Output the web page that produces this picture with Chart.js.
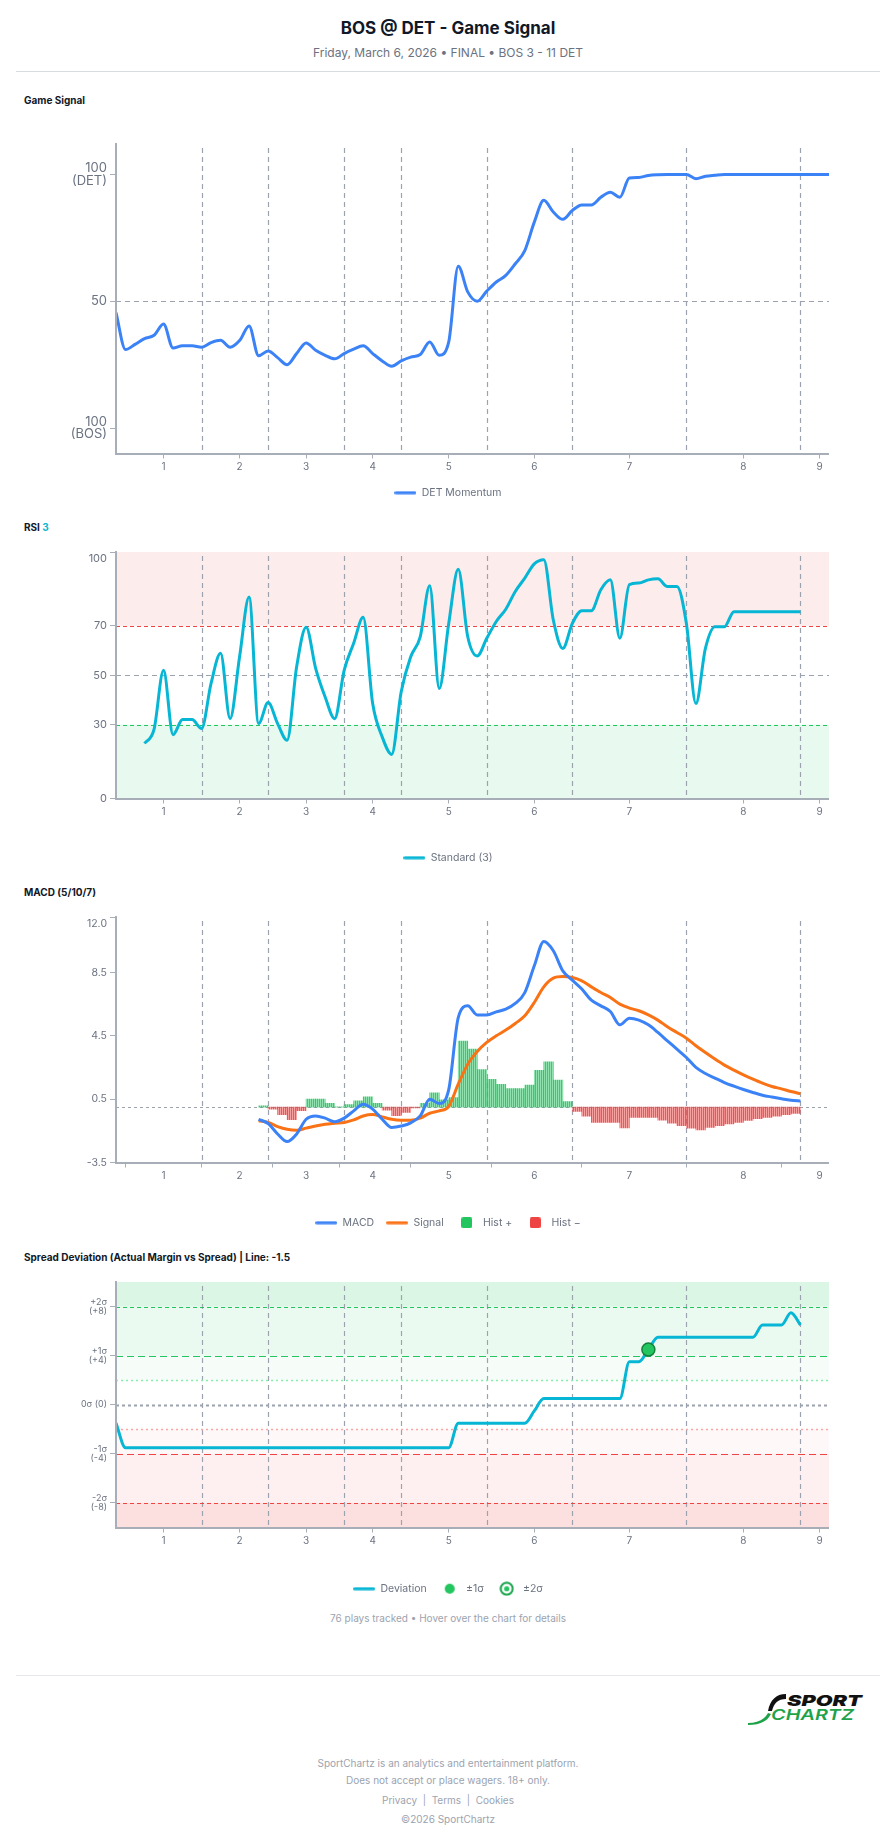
<!DOCTYPE html>
<html lang="en"><head><meta charset="utf-8"><title>BOS @ DET - Game Signal</title>
<script src="https://cdn.jsdelivr.net/npm/chart.js@4.4.1/dist/chart.umd.min.js"></script>
<style>
html,body{margin:0;padding:0;background:#fff;}
body{width:896px;height:1845px;overflow:hidden;position:relative;font-family:Inter,"Noto Sans",sans-serif;}
.a{position:absolute;white-space:nowrap;}
.c{left:0;width:896px;text-align:center;}
.sec{left:24px;font-size:10px;font-weight:700;color:#111827;line-height:16px;}
.hr{position:absolute;left:16px;width:864px;height:1px;background:#e5e7eb;}
canvas{position:absolute;left:67px;display:block;}
.foot{font-size:10px;color:#9ca3af;line-height:16px;}
</style></head><body>
<div class="a c" style="top:17px;font-size:17px;font-weight:700;color:#111827;line-height:22px">BOS @ DET - Game Signal</div>
<div class="a c" style="top:45px;font-size:12px;color:#6b7280;line-height:16px">Friday, March 6, 2026 • FINAL • BOS 3 - 11 DET</div>
<div class="hr" style="top:71px;background:#d8dbe0"></div>

<div class="a sec" style="top:92px">Game Signal</div>
<canvas id="c1" width="762" height="384" style="top:124px;width:762px;height:384px"></canvas>

<div class="a sec" style="top:519px">RSI <span style="color:#06b6d4">3</span></div>
<canvas id="c2" width="762" height="341" style="top:532px;width:762px;height:341px"></canvas>

<div class="a sec" style="top:884px">MACD (5/10/7)</div>
<canvas id="c3" width="762" height="341" style="top:897px;width:762px;height:341px"></canvas>

<div class="a sec" style="top:1249px">Spread Deviation (Actual Margin vs Spread) | Line: -1.5</div>
<canvas id="c4" width="762" height="342" style="top:1262px;width:762px;height:342px"></canvas>

<div class="a c foot" style="top:1610px">76 plays tracked • Hover over the chart for details</div>
<div class="hr" style="top:1675px"></div>
<svg class="a" style="left:745px;top:1690px" width="125" height="36" viewBox="0 0 125 36">
  <path d="M41 4 C31 4 25 10 23 21 L27 21 C29 13 33 9 41 9 Z" fill="#111"/>
  <path d="M3 33 C12 33 19 30 23 23 L26 24 C22 32 14 35 3 35 Z" fill="#1fa34a"/>
  <text x="42" y="16" textLength="75" lengthAdjust="spacingAndGlyphs" font-family="Inter" font-size="15" font-weight="900" font-style="italic" fill="#111">SPORT</text>
  <text x="26" y="30" textLength="83" lengthAdjust="spacingAndGlyphs" font-family="Inter" font-size="15" font-weight="600" font-style="italic" fill="#1fa34a">CHARTZ</text>
</svg>
<div class="a c foot" style="top:1755px">SportChartz is an analytics and entertainment platform.</div>
<div class="a c foot" style="top:1772px">Does not accept or place wagers. 18+ only.</div>
<div class="a c foot" style="top:1792px">Privacy&nbsp;&nbsp;|&nbsp;&nbsp;Terms&nbsp;&nbsp;|&nbsp;&nbsp;Cookies</div>
<div class="a c foot" style="top:1811px">©2026 SportChartz</div>

<script>
// ---------------- DATA ----------------
const PLAY_COUNT = 76;
const INNING_BOUNDARIES = [9, 16, 24, 30, 39, 48, 60, 72];
const INNING_TICK_IDX = [5, 13, 20, 27, 35, 44, 54, 66, 74];
const INNING_LABELS = ['1', '2', '3', '4', '5', '6', '7', '8', '9'];

const gameSignal = [45.5,31,33,35.3,36.6,41,31.6,32.5,32.5,31.9,
  33.7,34.6,31.9,34.5,40.3,28.5,30.4,27.8,25,29.4,
  33.6,30.7,28.7,27.3,29.4,31.1,32.5,29.4,26.5,24.4,
  26.5,28,29,34,28.7,34,63.8,53.7,50,54,
  57.6,60.2,64.8,70,81.2,89.8,85.2,82.3,85.8,88,
  88,91,93,91,98.6,98.8,99.6,99.9,100,100,
  100,98.3,99.3,99.7,100,100,100,100,100,100,
  100,100,100,100,100,100];

const rsiStart = 3;
const rsiValues = [22.3,28,52,25.9,32,32,28.4,46.7,58.9,32.4,
  57.5,81.7,30.4,38.9,30.4,23.6,53.4,69.5,52.8,41.2,
  32.4,52,63,73.5,38.5,25,17.9,43.3,57.5,65.6,
  86.3,44.6,71,93,65.6,57.8,65,71.8,76.8,84,
  89.4,95.2,96.9,72.4,60.9,71,76.2,76.2,84.7,88.7,
  65,86.8,87.4,88.7,89.1,86,86,71,38.5,60.9,
  69.7,69.7,75.8,75.8,75.8,75.8,75.8,75.8,75.8,75.8];

const macdStart = 15;
const macdValues = [-0.77,-1.04,-1.7,-2.18,-1.7,-0.77,-0.56,-0.7,-0.93,-0.7,
  -0.24,0.18,-0.13,-0.77,-1.29,-1.2,-1.0,-0.56,0.5,0.22,
  1.1,5.65,6.39,5.82,5.82,6.01,6.18,6.54,7.23,8.92,
  10.45,9.87,8.6,8.01,7.45,6.75,6.39,6.03,5.19,5.61,
  5.49,5.19,4.71,4.18,3.66,3.13,2.5,2.12,1.83,1.55,
  1.32,1.11,0.92,0.75,0.63,0.52,0.43,0.39];
const signalValues = [-0.87,-0.97,-1.23,-1.4,-1.46,-1.33,-1.19,-1.08,-1.02,-0.97,
  -0.81,-0.56,-0.47,-0.62,-0.77,-0.83,-0.83,-0.7,-0.39,-0.24,
  0.05,1.45,2.71,3.51,4.08,4.5,4.86,5.28,5.76,6.6,
  7.59,8.14,8.24,8.18,7.97,7.59,7.23,6.92,6.5,6.25,
  6.08,5.82,5.49,5.07,4.71,4.35,3.87,3.44,3.03,2.65,
  2.33,2.03,1.76,1.51,1.3,1.15,0.98,0.85];
const histValues = [0.08,-0.13,-0.48,-0.8,-0.23,0.5,0.5,0.23,0.02,0.15,
  0.4,0.65,0.23,-0.19,-0.55,-0.34,-0.05,0.23,0.9,0.46,
  0.6,4.17,3.66,2.36,1.75,1.43,1.16,1.16,1.39,2.32,
  2.86,1.7,0.34,-0.27,-0.57,-0.97,-0.97,-0.97,-1.31,-0.65,
  -0.65,-0.65,-0.82,-1.01,-1.18,-1.33,-1.45,-1.28,-1.18,-1.07,
  -0.97,-0.84,-0.74,-0.65,-0.57,-0.48,-0.4];

const deviationValues = [-1.5,
  -3.5,-3.5,-3.5,-3.5,-3.5,-3.5,-3.5,-3.5,-3.5,-3.5,
  -3.5,-3.5,-3.5,-3.5,-3.5,-3.5,-3.5,-3.5,-3.5,-3.5,
  -3.5,-3.5,-3.5,-3.5,-3.5,-3.5,-3.5,-3.5,-3.5,-3.5,
  -3.5,-3.5,-3.5,-3.5,-3.5,
  -1.5,-1.5,-1.5,-1.5,-1.5,-1.5,-1.5,-1.5,
  -0.5,
  0.5,0.5,0.5,0.5,0.5,0.5,0.5,0.5,0.5,
  3.5,3.5,4.5,
  5.5,5.5,5.5,5.5,5.5,5.5,5.5,5.5,5.5,5.5,5.5,
  6.5,6.5,6.5,7.5,6.5];
const SIGMA = 4;

const GS_Y_TICKS = [0, 50, 100];
const GS_Y_LABELS = [['100', '(BOS)'], '50', ['100', '(DET)']];
const RSI_Y_TICKS = [0, 30, 50, 70, 100];
const RSI_Y_LABELS = ['0', '30', '50', '70', ['', '100']];
const MACD_Y_TICKS = [-3.5, 0.5, 4.5, 8.5, 12];
const MACD_Y_LABELS = ['-3.5', '0.5', '4.5', '8.5', ['', '12.0']];
const DEV_Y_TICKS = [-8, -4, 0, 4, 8];
const DEV_Y_LABELS = [['-2σ', '(-8)'], ['-1σ', '(-4)'], '0σ (0)', ['+1σ', '(+4)'], ['+2σ', '(+8)']];

// ---------------- HELPERS ----------------
Chart.defaults.font.family = "Inter, 'Noto Sans', sans-serif";
const AXIS = '#a8aeb8', TXT = '#6b7280', GRIDV = '#9ca3af';
const BLUE = '#3b82f6', ORANGE = '#f97316', CYAN = '#06b6d4', GREEN = '#22c55e', RED = '#ef4444';

function mk(w, h, draw) { const c = document.createElement('canvas'); c.width = w; c.height = h; draw(c.getContext('2d')); return c; }
const lineMarker = col => mk(22, 4, g => { g.strokeStyle = col; g.lineWidth = 3; g.lineCap = 'round'; g.beginPath(); g.moveTo(1.5, 2); g.lineTo(20.5, 2); g.stroke(); });
const squareMarker = col => mk(11, 11, g => { g.fillStyle = col; g.beginPath(); g.roundRect(0, 0, 11, 11, 2); g.fill(); });
const dotMarker = col => mk(12, 12, g => { g.fillStyle = col; g.beginPath(); g.arc(6, 6, 5, 0, Math.PI * 2); g.fill(); });
const ringMarker = col => mk(15, 15, g => { g.fillStyle = '#fff'; g.strokeStyle = '#16a34a'; g.lineWidth = 2; g.beginPath(); g.arc(7.5, 7.5, 6, 0, Math.PI * 2); g.fill(); g.stroke(); g.fillStyle = col; g.beginPath(); g.arc(7.5, 7.5, 2.6, 0, Math.PI * 2); g.fill(); });

function legendCfg(items) {
  return {
    position: 'bottom',
    labels: {
      usePointStyle: true, pointStyleWidth: 22, padding: 12, color: TXT, font: { size: 10.5 },
      generateLabels: () => items.map((it, i) => ({ text: it.text, pointStyle: it.marker, fillStyle: 'transparent', strokeStyle: 'transparent', lineWidth: 0, hidden: false, fontColor: TXT, datasetIndex: i }))
    }
  };
}

function xScale(h) {
  return {
    type: 'linear', min: 0, max: PLAY_COUNT - 1, offset: false,
    afterBuildTicks: s => { s.ticks = INNING_TICK_IDX.map(v => ({ value: v })); },
    afterFit: s => { s.height = h; },
    ticks: { autoSkip: false, maxRotation: 0, padding: 2, color: TXT, font: { size: 10 },
      callback: v => INNING_LABELS[INNING_TICK_IDX.indexOf(v)] },
    grid: { drawOnChartArea: false, drawTicks: true, tickLength: 5, color: AXIS, tickColor: AXIS },
    border: { display: true, color: AXIS, width: 2, z: 1 }
  };
}
function yScale(min, max, ticks, labels, size, lh) {
  return {
    type: 'linear', min, max,
    afterBuildTicks: s => { s.ticks = ticks.map(v => ({ value: v })); },
    afterFit: s => { s.width = 49; },
    ticks: { padding: 3, color: TXT, font: { size, lineHeight: lh }, callback: v => labels[ticks.indexOf(v)] },
    grid: { drawOnChartArea: false, drawTicks: true, tickLength: 6, color: AXIS, tickColor: AXIS },
    border: { display: true, color: AXIS, width: 2, z: 1 }
  };
}
function refPlugin(cfg) {
  return {
    id: 'refs',
    beforeDatasetsDraw(chart) {
      const { ctx, chartArea: a, scales: { x, y } } = chart;
      ctx.save();
      (cfg.bands || []).forEach(b => {
        const y1 = y.getPixelForValue(b.to), y2 = y.getPixelForValue(b.from);
        ctx.fillStyle = b.color; ctx.fillRect(a.left, y1, a.right - a.left, y2 - y1);
      });
      ctx.lineWidth = 1.2; ctx.strokeStyle = GRIDV; ctx.setLineDash([5, 4]);
      INNING_BOUNDARIES.forEach(v => {
        const px = Math.round(x.getPixelForValue(v)) + 0.5;
        ctx.beginPath(); ctx.moveTo(px, a.top + 4); ctx.lineTo(px, a.bottom); ctx.stroke();
      });
      (cfg.hlines || []).forEach(l => {
        const py = Math.round(y.getPixelForValue(l.value)) + 0.5;
        ctx.lineWidth = l.width || 1.2; ctx.strokeStyle = l.color; ctx.setLineDash(l.dash);
        ctx.beginPath(); ctx.moveTo(a.left, py); ctx.lineTo(a.right, py); ctx.stroke();
      });
      ctx.restore();
    }
  };
}
function baseOptions(xs, ys, legend) {
  return {
    responsive: false, animation: false, events: [],
    layout: { padding: { top: 20, left: 0, right: 0, bottom: 0 } },
    scales: { x: xs, y: ys },
    plugins: { legend, tooltip: { enabled: false } }
  };
}
const lineDs = (label, pts, color, extra) => Object.assign({ type: 'line', label, data: pts, borderColor: color, backgroundColor: color, borderWidth: 3, pointRadius: 0, fill: false, cubicInterpolationMode: 'monotone' }, extra || {});

// ---------------- CHART 1: GAME SIGNAL ----------------
new Chart(document.getElementById('c1'), {
  type: 'line',
  data: { datasets: [lineDs('DET Momentum', gameSignal.map((v, i) => ({ x: i, y: v })), BLUE)] },
  options: baseOptions(xScale(22), yScale(-10, 112, GS_Y_TICKS, GS_Y_LABELS, 13, 0.95),
    legendCfg([{ text: 'DET Momentum', marker: lineMarker(BLUE) }])),
  plugins: [refPlugin({ hlines: [{ value: 50, color: GRIDV, dash: [5, 4] }] })]
});

// ---------------- CHART 2: RSI ----------------
new Chart(document.getElementById('c2'), {
  type: 'line',
  data: { datasets: [lineDs('Standard (3)', rsiValues.map((v, k) => ({ x: rsiStart + k, y: v })), CYAN)] },
  options: baseOptions(xScale(42), yScale(0, 100, RSI_Y_TICKS, RSI_Y_LABELS, 11, 1.3),
    legendCfg([{ text: 'Standard (3)', marker: lineMarker(CYAN) }])),
  plugins: [refPlugin({
    bands: [{ from: 70, to: 100, color: 'rgba(239,68,68,0.1)' }, { from: 0, to: 30, color: 'rgba(34,197,94,0.1)' }],
    hlines: [{ value: 70, color: RED, dash: [4, 3] }, { value: 50, color: GRIDV, dash: [5, 4] }, { value: 30, color: GREEN, dash: [4, 3] }]
  })]
});

// ---------------- CHART 3: MACD ----------------
const c3 = document.getElementById('c3');
function stripes(ctx, rgb) {
  const tile = mk(2, 4, g => { g.fillStyle = `rgba(${rgb},0.9)`; g.fillRect(0, 0, 1, 4); g.fillStyle = `rgba(${rgb},0.5)`; g.fillRect(1, 0, 1, 4); });
  return ctx.createPattern(tile, 'repeat');
}
const ctx3 = c3.getContext('2d');
const barDs = (label, filterFn, pattern) => ({
  type: 'bar', label, order: 2, grouped: false, barPercentage: 1, categoryPercentage: 1, borderWidth: 0,
  backgroundColor: pattern,
  data: histValues.map((v, k) => ({ x: macdStart + k + 0.5, y: filterFn(v) ? v : null }))
});
new Chart(c3, {
  type: 'line',
  data: { datasets: [
    lineDs('MACD', macdValues.map((v, k) => ({ x: macdStart + k, y: v })), BLUE, { order: 0 }),
    lineDs('Signal', signalValues.map((v, k) => ({ x: macdStart + k, y: v })), ORANGE, { order: 1 }),
    barDs('Hist +', v => v >= 0, stripes(ctx3, '34,197,94')),
    barDs('Hist −', v => v < 0, stripes(ctx3, '239,68,68'))
  ] },
  options: baseOptions(xScale(43), yScale(-3.5, 12, MACD_Y_TICKS, MACD_Y_LABELS, 10.5, 1.3),
    legendCfg([
      { text: 'MACD', marker: lineMarker(BLUE) }, { text: 'Signal', marker: lineMarker(ORANGE) },
      { text: 'Hist +', marker: squareMarker(GREEN) }, { text: 'Hist −', marker: squareMarker(RED) }
    ])),
  plugins: [refPlugin({ hlines: [{ value: 0, color: GRIDV, dash: [3, 3], width: 1 }] })]
});

// ---------------- CHART 4: SPREAD DEVIATION ----------------
const crossRadius = deviationValues.map((v, i) => {
  if (i === 0) return 0;
  const p = Math.abs(deviationValues[i - 1]), c = Math.abs(v);
  return (p < SIGMA && c >= SIGMA) || (p < 2 * SIGMA && c >= 2 * SIGMA) ? 6.5 : 0;
});
new Chart(document.getElementById('c4'), {
  type: 'line',
  data: { datasets: [lineDs('Deviation', deviationValues.map((v, i) => ({ x: i, y: v })), CYAN, {
    pointRadius: crossRadius, pointBackgroundColor: GREEN, pointBorderColor: '#15803d', pointBorderWidth: 1.5
  })] },
  options: baseOptions(xScale(44), yScale(-10, 10, DEV_Y_TICKS, DEV_Y_LABELS, 9, 0.95),
    legendCfg([
      { text: 'Deviation', marker: lineMarker(CYAN) }, { text: '±1σ', marker: dotMarker(GREEN) },
      { text: '±2σ', marker: ringMarker(GREEN) }
    ])),
  plugins: [refPlugin({
    bands: [
      { from: 8, to: 10, color: 'rgba(34,197,94,0.16)' }, { from: 4, to: 8, color: 'rgba(34,197,94,0.09)' },
      { from: 2, to: 4, color: 'rgba(34,197,94,0.04)' }, { from: -4, to: -2, color: 'rgba(239,68,68,0.04)' },
      { from: -8, to: -4, color: 'rgba(239,68,68,0.08)' }, { from: -10, to: -8, color: 'rgba(239,68,68,0.17)' }
    ],
    hlines: [
      { value: 8, color: GREEN, dash: [4, 3] }, { value: 4, color: GREEN, dash: [7, 4] },
      { value: 2, color: '#86efac', dash: [2, 3], width: 1.5 }, { value: 0, color: GRIDV, dash: [3, 3], width: 2 },
      { value: -2, color: '#fca5a5', dash: [2, 3], width: 1.5 }, { value: -4, color: RED, dash: [7, 4] },
      { value: -8, color: RED, dash: [4, 3] }
    ]
  })]
});
</script>
</body></html>
